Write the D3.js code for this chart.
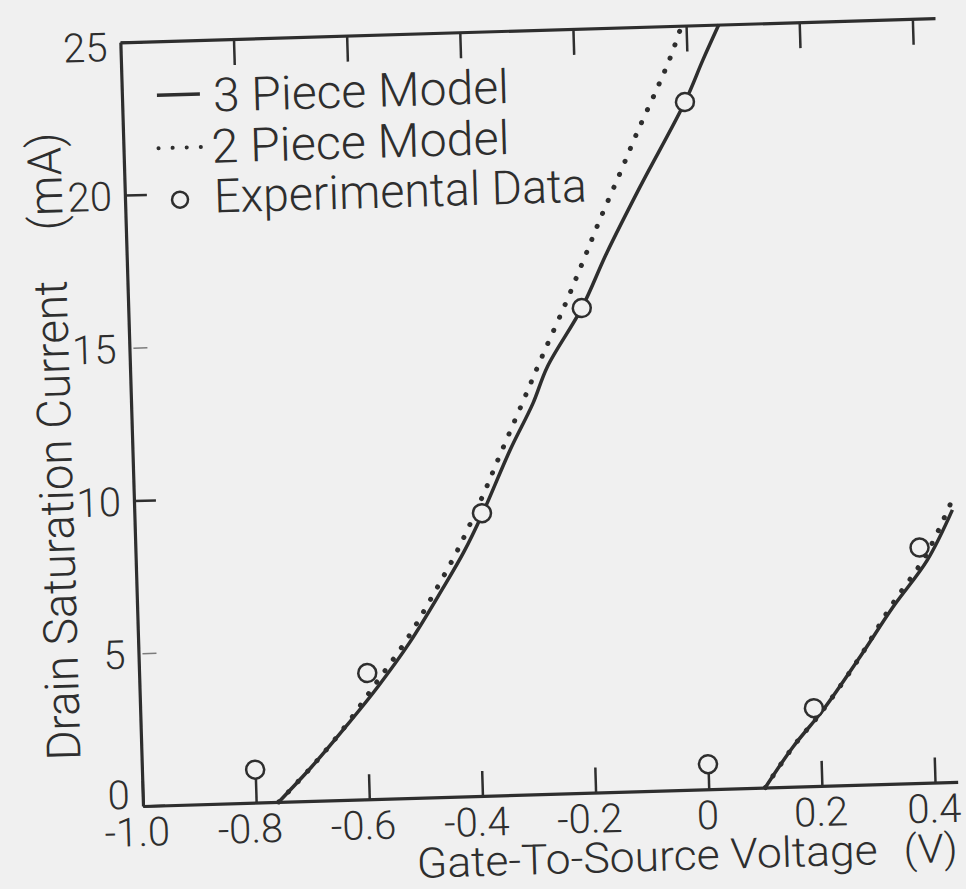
<!DOCTYPE html>
<html>
<head>
<meta charset="utf-8">
<script src="https://cdn.jsdelivr.net/npm/d3@7"></script>
<style>
  body { margin: 0; background: #f0f0f0; }
  svg { display: block; }
  text { font-family: Roboto, "Open Sans", sans-serif; font-weight: 300; fill: #2e2e2e; }
</style>
</head>
<body>
<div id="chart"></div>
<script>
// Axis ticks
const xTicks = [-1.0, -0.8, -0.6, -0.4, -0.2, 0, 0.2, 0.4];
const xTickLabels = ["-1.0", "-0.8", "-0.6", "-0.4", "-0.2", "0", "0.2", "0.4"];
const yTicks = [0, 5, 10, 15, 20, 25];

// 3 piece model (solid), left curve
const solidLeftV = [-0.76, -0.70, -0.64, -0.58, -0.52, -0.46, -0.42, -0.386, -0.333, -0.290, -0.263, -0.199, -0.152, -0.090, -0.006, 0.028, 0.058];
const solidLeftI = [0, 1.12, 2.35, 3.65, 5.1, 6.8, 8.0, 9.2, 11.29, 12.80, 13.97, 15.86, 17.64, 19.76, 22.5, 23.86, 25];
// 2 piece model (dotted), left curve
const dotLeftV = [-0.76, -0.70, -0.64, -0.585, -0.525, -0.466, -0.427, -0.379, -0.357, -0.308, -0.272, -0.228, -0.194, -0.162, -0.124, -0.092, -0.055, -0.030, -0.008];
const dotLeftI = [0, 1.12, 2.38, 3.72, 5.2, 6.95, 8.2, 10.0, 10.9, 12.85, 14.3, 16.0, 17.4, 18.75, 20.25, 21.55, 22.95, 23.95, 25];
// right curves
const solidRightV = [0.10, 0.151, 0.206, 0.274, 0.335, 0.398, 0.445];
const solidRightI = [0, 1.30, 2.48, 4.18, 5.78, 7.28, 8.9];
const dotRightV = [0.10, 0.151, 0.206, 0.274, 0.332, 0.395, 0.447];
const dotRightI = [0, 1.30, 2.48, 4.18, 5.82, 7.42, 9.3];
// experimental data
const expV = [-0.80, -0.597, -0.386, -0.199, -0.006, 0.0, 0.19, 0.385];
const expI = [1.08, 4.13, 9.25, 15.86, 22.5, 0.82, 2.55, 7.7];

const ink = "#2e2e2e";
const bg = "#f0f0f0";

const svg = d3.select("#chart")
    .append("svg")
    .attr("width", 966)
    .attr("height", 889);

svg.append("rect").attr("width", 966).attr("height", 889).attr("fill", bg);

// the scanned figure sits slightly rotated
const g = svg.append("g")
    .attr("transform", "rotate(-1.7, 143, 806)");

const x = d3.scaleLinear().domain([-1.0, 0.44]).range([143, 958]);
const y = d3.scaleLinear().domain([0, 25]).range([806, 42]);

// bottom axis
const xAxis = g.append("g")
    .attr("transform", `translate(0,${y(0)})`)
    .call(d3.axisBottom(x)
        .tickValues(xTicks)
        .tickFormat((d, i) => xTickLabels[i])
        .tickSize(-25)
        .tickSizeOuter(0));

xAxis.selectAll("text")
    .attr("y", 40)
    .attr("dy", 0)
    .attr("dx", d => d < 0 ? -7 : -2)
    .style("font-size", "40px");

// top border with ticks
g.append("g")
    .attr("transform", `translate(0,${y(25)})`)
    .call(d3.axisTop(x)
        .tickValues(xTicks.slice(1))
        .tickFormat("")
        .tickSize(-26)
        .tickSizeOuter(0));

// left axis
const yAxis = g.append("g")
    .attr("transform", `translate(${x(-1.0)},0)`)
    .call(d3.axisLeft(y)
        .tickValues(yTicks)
        .tickSize(-22)
        .tickPadding(13)
        .tickSizeOuter(0));

yAxis.selectAll("text")
    .style("font-size", "40px")
    .attr("dy", d => d === 0 ? "0.05em" : d === 25 ? "0.45em" : "0.36em");

// faint short ticks at 5 and 15
yAxis.selectAll(".tick line")
    .filter(d => d === 5 || d === 15)
    .attr("x1", 4)
    .attr("x2", 18)
    .attr("stroke-width", 1.5)
    .attr("opacity", 0.6);

g.selectAll(".domain").attr("stroke", ink).attr("stroke-width", 3.2);
g.selectAll(".tick line").attr("stroke", ink).filter(function () {
    return !this.getAttribute("stroke-width");
}).attr("stroke-width", 2.5);
g.selectAll(".tick text").attr("fill", ink).attr("font-family", null);

// axis titles
g.append("text")
    .attr("x", 415)
    .attr("y", 886)
    .attr("textLength", 461)
    .attr("lengthAdjust", "spacingAndGlyphs")
    .style("font-size", "42px")
    .text("Gate-To-Source Voltage");

g.append("text")
    .attr("x", 902)
    .attr("y", 886)
    .attr("textLength", 54)
    .attr("lengthAdjust", "spacingAndGlyphs")
    .style("font-size", "40px")
    .text("(V)");

g.append("text")
    .attr("transform", "translate(82,758) rotate(-90)")
    .attr("textLength", 480)
    .attr("lengthAdjust", "spacingAndGlyphs")
    .style("font-size", "47px")
    .text("Drain Saturation Current");

g.append("text")
    .attr("transform", "translate(80,228) rotate(-90)")
    .attr("textLength", 98)
    .attr("lengthAdjust", "spacingAndGlyphs")
    .style("font-size", "47px")
    .text("(mA)");

// curves
const line = d3.line()
    .x(d => x(d[0]))
    .y(d => y(d[1]))
    .curve(d3.curveCatmullRom.alpha(0.5));

const dotted = [d3.zip(dotLeftV, dotLeftI), d3.zip(dotRightV, dotRightI)];
const solid = [d3.zip(solidLeftV, solidLeftI), d3.zip(solidRightV, solidRightI)];

g.selectAll(".dotted")
    .data(dotted)
    .enter()
    .append("path")
    .attr("class", "dotted")
    .attr("d", line)
    .attr("fill", "none")
    .attr("stroke", ink)
    .attr("stroke-width", 5)
    .attr("stroke-linecap", "round")
    .attr("stroke-dasharray", "0.1 14");

g.selectAll(".solid")
    .data(solid)
    .enter()
    .append("path")
    .attr("class", "solid")
    .attr("d", line)
    .attr("fill", "none")
    .attr("stroke", ink)
    .attr("stroke-width", 3.5);

g.selectAll(".exp")
    .data(d3.zip(expV, expI))
    .enter()
    .append("circle")
    .attr("class", "exp")
    .attr("cx", d => x(d[0]))
    .attr("cy", d => y(d[1]))
    .attr("r", 9)
    .attr("fill", bg)
    .attr("stroke", ink)
    .attr("stroke-width", 2.5);

// legend
const legend = g.append("g");

legend.append("line")
    .attr("x1", 178).attr("x2", 221)
    .attr("y1", 96).attr("y2", 96)
    .attr("stroke", ink).attr("stroke-width", 3.5);

legend.append("text")
    .attr("x", 234).attr("y", 114)
    .attr("textLength", 296)
    .attr("lengthAdjust", "spacingAndGlyphs")
    .style("font-size", "47px")
    .text("3 Piece Model");

legend.append("line")
    .attr("x1", 178).attr("x2", 221)
    .attr("y1", 149).attr("y2", 149)
    .attr("stroke", ink).attr("stroke-width", 4)
    .attr("stroke-linecap", "round")
    .attr("stroke-dasharray", "0.1 14");

legend.append("text")
    .attr("x", 231).attr("y", 165)
    .attr("textLength", 298)
    .attr("lengthAdjust", "spacingAndGlyphs")
    .style("font-size", "47px")
    .text("2 Piece  Model");

legend.append("circle")
    .attr("cx", 198).attr("cy", 201)
    .attr("r", 8)
    .attr("fill", "none")
    .attr("stroke", ink).attr("stroke-width", 2.5);

legend.append("text")
    .attr("x", 232).attr("y", 215)
    .attr("textLength", 373)
    .attr("lengthAdjust", "spacingAndGlyphs")
    .style("font-size", "47px")
    .text("Experimental Data");
</script>
</body>
</html>
